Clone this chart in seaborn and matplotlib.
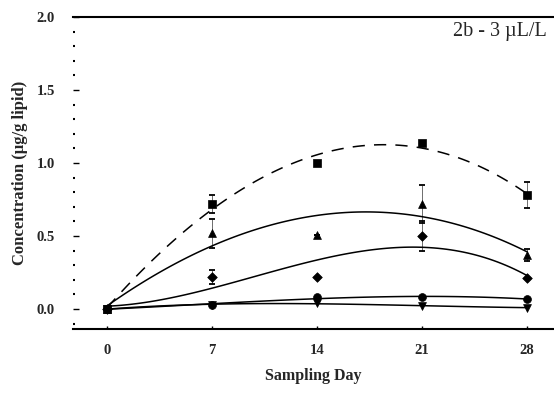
import numpy as np
import pandas as pd
import matplotlib
matplotlib.use("Agg")
import matplotlib.pyplot as plt
import seaborn as sns
from matplotlib.ticker import MultipleLocator

# ---- data ----
days = [0, 7, 14, 21, 28]
sq_vals = [0.00, 0.72, 1.00, 1.14, 0.78]
sq_err = [0.00, 0.06, 0.00, 0.00, 0.09]
tri_vals = [0.00, 0.52, 0.51, 0.72, 0.37]
tri_err = [0.00, 0.10, 0.00, 0.13, 0.04]
dia_vals = [0.00, 0.22, 0.22, 0.50, 0.21]
dia_err = [0.00, 0.05, 0.00, 0.10, 0.00]
cir_vals = [0.00, 0.03, 0.08, 0.08, 0.07]
dtri_vals = [0.00, 0.03, 0.04, 0.02, 0.01]
x_ticks = [0, 7, 14, 21, 28]
y_ticks = [0.0, 0.5, 1.0, 1.5, 2.0]
panel_label = "2b - 3 \u00b5L/L"

series = [
    ("square", sq_vals, sq_err, "s", (0, (8, 6))),
    ("triangle", tri_vals, tri_err, "^", "-"),
    ("diamond", dia_vals, dia_err, "D", "-"),
    ("circle", cir_vals, None, "o", "-"),
    ("dtriangle", dtri_vals, None, "v", "-"),
]

sns.set_style("white")
plt.rcParams["font.family"] = ["Liberation Serif", "DejaVu Serif"]

fig = plt.figure(figsize=(5.54, 4.11), dpi=100)
ax = fig.add_axes([0.132, 0.1995, 0.868, 0.759])

for name, vals, err, mk, ls in series:
    df = pd.DataFrame({"day": days, "conc": vals})
    sns.regplot(data=df, x="day", y="conc", order=3, ci=None, scatter=False,
                truncate=True, ax=ax,
                line_kws=dict(color="black", lw=1.1, linestyle=ls))
    if err is not None:
        ax.errorbar(days, vals, yerr=err, fmt="none", ecolor="black",
                    elinewidth=0.4, capsize=2.5, capthick=1.3)
    sns.scatterplot(data=df, x="day", y="conc", marker=mk, color="black",
                    s=32 if mk != "D" else 24, edgecolor="black", linewidth=0.5,
                    ax=ax, zorder=5)

ax.set_xlim(-2.27, 29.8)
ax.set_ylim(-0.137, 2.0)
ax.set_xticks(x_ticks)
ax.set_yticks(y_ticks)
ax.set_yticklabels([f"{v:.1f}" for v in y_ticks])
ax.yaxis.set_minor_locator(MultipleLocator(0.1))

for side in ["left", "right"]:
    ax.spines[side].set_visible(False)
for side in ["top", "bottom"]:
    ax.spines[side].set_visible(True)
    ax.spines[side].set_color("black")
    ax.spines[side].set_linewidth(1.5)

ax.tick_params(axis="y", which="major", left=True, direction="in", length=4,
               width=1.0, color="black", labelsize=10.5, pad=13)
ax.tick_params(axis="y", which="minor", left=True, direction="in", length=1.5,
               width=1.5, color="black")
ax.tick_params(axis="x", which="major", bottom=True, direction="in", length=2,
               width=1.0, color="black", labelsize=10.5, pad=11)
for lab in ax.get_xticklabels() + ax.get_yticklabels():
    lab.set_fontweight("bold")

ax.set_xlabel("Sampling Day", fontsize=11.5, fontweight="bold", labelpad=8)
ax.set_ylabel("Concentration (\u00b5g/g lipid)", fontsize=12, fontweight="bold",
              labelpad=6)
ax.text(0.985, 0.985, panel_label, transform=ax.transAxes, ha="right", va="top",
        fontsize=14.5)

fig.savefig("out.png", dpi=100)
